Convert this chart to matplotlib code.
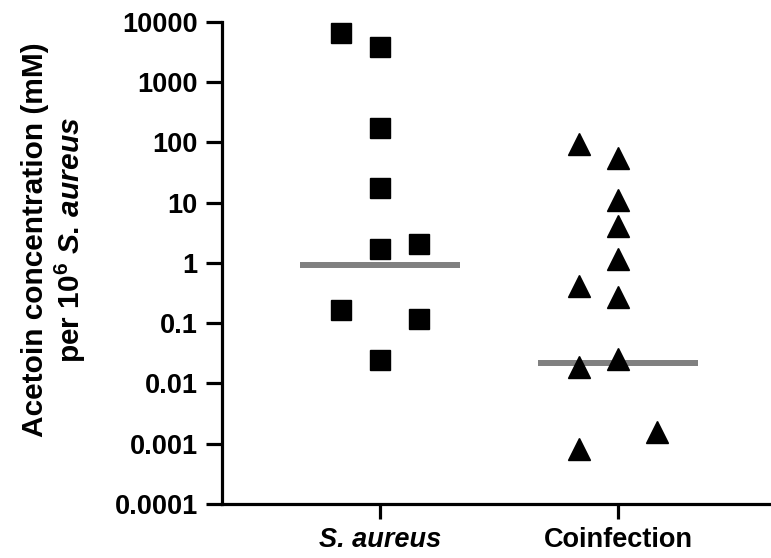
import matplotlib.pyplot as plt
import numpy as np

plt.rcParams['font.family'] = ['Liberation Sans', 'DejaVu Sans']
plt.rcParams['font.weight'] = 'bold'
plt.rcParams['mathtext.fontset'] = 'custom'
plt.rcParams['mathtext.rm'] = 'Liberation Sans:bold'
plt.rcParams['mathtext.it'] = 'Liberation Sans:bold:italic'
plt.rcParams['mathtext.bf'] = 'Liberation Sans:bold'

groups = ['S. aureus', 'Coinfection']

# acetoin per 10^6 S. aureus
sa_values = [6600, 3850, 170, 17.2, 1.68, 2.03, 0.164, 0.116, 0.0244]
sa_jitter = [-1, 0, 0, 0, 0, 1, -1, 1, 0]

co_values = [95, 54, 11.1, 4.04, 1.15, 0.41, 0.27, 0.0249, 0.019, 0.00154, 0.000805]
co_jitter = [-1, 0, 0, 0, 0, -1, 0, 0, -1, 1, -1]

center_lines = [0.91, 0.0218]

yticks = [1e-4, 1e-3, 1e-2, 1e-1, 1, 10, 100, 1000, 10000]
ytick_labels = ['0.0001', '0.001', '0.01', '0.1', '1', '10', '100', '1000', '10000']

step = 0.162
half_w = 0.336

fig = plt.figure(figsize=(7.71, 5.58), dpi=100)
ax = fig.add_axes([0.288, 0.097, 0.712, 0.864])

for i, c in enumerate(center_lines):
    ax.plot([i - half_w, i + half_w], [c, c], color='#808080', lw=4.3,
            solid_capstyle='butt', zorder=2)

ax.plot(np.array(sa_jitter) * step, sa_values, 's', color='black',
        markersize=14.4, zorder=3, linestyle='none')
ax.plot(1 + np.array(co_jitter) * step, co_values, '^', color='black',
        markersize=15.5, zorder=3, linestyle='none')

ax.set_yscale('log')
ax.set_ylim(1e-4, 1e4)
ax.set_xlim(-0.664, 1.643)
ax.set_yticks(yticks)
ax.set_yticklabels(ytick_labels)
ax.yaxis.set_minor_locator(plt.NullLocator())

ax.set_xticks([0, 1])
ax.set_xticklabels(groups)
ax.get_xticklabels()[0].set_fontstyle('italic')

for side in ['top', 'right']:
    ax.spines[side].set_visible(False)
for side in ['left', 'bottom']:
    ax.spines[side].set_linewidth(2.3)

ax.tick_params(axis='y', width=2.3, length=11.5, labelsize=19.5, pad=6)
ax.tick_params(axis='x', width=2.3, length=11, labelsize=19.5, pad=6)

ax.set_ylabel('Acetoin concentration (mM)\nper 10$^{6}$ $S.\\,aureus$',
              fontsize=21.5, fontweight='bold', linespacing=1.12)
ax.yaxis.set_label_coords(-0.245, 0.548)

fig.savefig('out.png', dpi=100)
